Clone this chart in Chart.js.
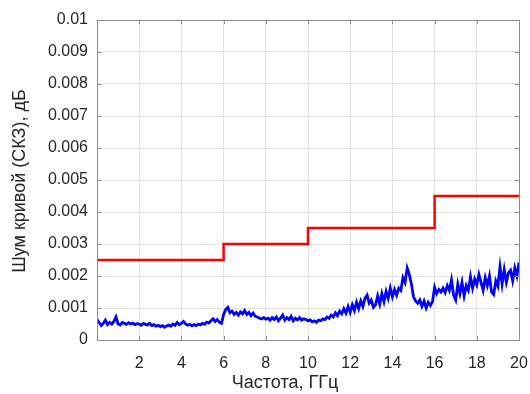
<!DOCTYPE html>
<html>
<head>
<meta charset="utf-8">
<script src="https://cdn.jsdelivr.net/npm/chart.js@4.4.0/dist/chart.umd.min.js"></script>
<style>
html,body{margin:0;padding:0;background:#fff;}
#c{display:block;}
</style>
</head>
<body>
<canvas id="c" width="530" height="394"></canvas>
<script>
// ---- data ----
const freqGHz = [
0.0,0.1,0.2,0.3,0.4,0.5,0.6,0.7,0.8,0.9,
1.0,1.1,1.2,1.3,1.4,1.5,1.6,1.7,1.8,1.9,
2.0,2.1,2.2,2.3,2.4,2.5,2.6,2.7,2.8,2.9,
3.0,3.1,3.2,3.3,3.4,3.5,3.6,3.7,3.8,3.9,
4.0,4.1,4.2,4.3,4.4,4.5,4.6,4.7,4.8,4.9,
5.0,5.1,5.2,5.3,5.4,5.5,5.6,5.7,5.8,5.9,
6.0,6.1,6.2,6.3,6.4,6.5,6.6,6.7,6.8,6.9,
7.0,7.1,7.2,7.3,7.4,7.5,7.6,7.7,7.8,7.9,
8.0,8.1,8.2,8.3,8.4,8.5,8.6,8.7,8.8,8.9,
9.0,9.1,9.2,9.3,9.4,9.5,9.6,9.7,9.8,9.9,
10.0,10.1,10.2,10.3,10.4,10.5,10.6,10.7,10.8,10.9,
11.0,11.1,11.2,11.3,11.4,11.5,11.6,11.7,11.8,11.9,
12.0,12.1,12.2,12.3,12.4,12.5,12.6,12.7,12.8,12.9,
13.0,13.1,13.2,13.3,13.4,13.5,13.6,13.7,13.8,13.9,
14.0,14.1,14.2,14.3,14.4,14.5,14.6,14.7,14.8,14.9,
15.0,15.1,15.2,15.3,15.4,15.5,15.6,15.7,15.8,15.9,
16.0,16.1,16.2,16.3,16.4,16.5,16.6,16.7,16.8,16.9,
17.0,17.1,17.2,17.3,17.4,17.5,17.6,17.7,17.8,17.9,
18.0,18.1,18.2,18.3,18.4,18.5,18.6,18.7,18.8,18.9,
19.0,19.1,19.2,19.3,19.4,19.5,19.6,19.7,19.8,19.9,
20.0
];
const noiseDb = [
0.00065,0.00055,0.00045,0.00052,0.00062,0.00048,0.00055,0.00050,0.00058,0.00072,
0.00050,0.00047,0.00055,0.00052,0.00049,0.00054,0.00050,0.00053,0.00048,0.00051,
0.00050,0.00046,0.00052,0.00049,0.00047,0.00052,0.00045,0.00048,0.00043,0.00046,
0.00042,0.00045,0.00040,0.00044,0.00047,0.00043,0.00050,0.00046,0.00055,0.00048,
0.00052,0.00058,0.00050,0.00046,0.00049,0.00044,0.00048,0.00045,0.00050,0.00047,
0.00052,0.00049,0.00056,0.00053,0.00060,0.00066,0.00058,0.00064,0.00055,0.00052,
0.00080,0.00095,0.00102,0.00085,0.00090,0.00080,0.00086,0.00078,0.00088,0.00082,
0.00092,0.00080,0.00086,0.00076,0.00084,0.00074,0.00072,0.00068,0.00066,0.00070,
0.00065,0.00068,0.00062,0.00070,0.00064,0.00072,0.00060,0.00068,0.00078,0.00062,
0.00070,0.00064,0.00074,0.00060,0.00068,0.00063,0.00070,0.00062,0.00066,0.00064,
0.00060,0.00063,0.00057,0.00060,0.00055,0.00062,0.00060,0.00066,0.00064,0.00072,
0.00068,0.00078,0.00072,0.00085,0.00076,0.00090,0.00082,0.00098,0.00084,0.00105,
0.00086,0.00110,0.00092,0.00118,0.00098,0.00122,0.00105,0.00130,0.00140,0.00115,
0.00125,0.00102,0.00110,0.00138,0.00112,0.00145,0.00120,0.00152,0.00130,0.00162,
0.00135,0.00158,0.00140,0.00162,0.00155,0.00195,0.00180,0.00225,0.00205,0.00175,
0.00135,0.00122,0.00115,0.00125,0.00105,0.00122,0.00100,0.00118,0.00108,0.00120,
0.00165,0.00145,0.00158,0.00150,0.00162,0.00148,0.00170,0.00155,0.00188,0.00140,
0.00125,0.00175,0.00145,0.00180,0.00138,0.00170,0.00155,0.00198,0.00162,0.00190,
0.00172,0.00205,0.00180,0.00155,0.00195,0.00170,0.00200,0.00150,0.00142,0.00185,
0.00168,0.00228,0.00175,0.00220,0.00180,0.00210,0.00218,0.00185,0.00225,0.00200,
0.00242
];
const limitFreq = [0, 6, 10, 16, 20];
const limitDb = [0.0025, 0.003, 0.0035, 0.0045, 0.0045];
const xTicks = [2, 4, 6, 8, 10, 12, 14, 16, 18, 20];
const yTickLabels = ['0','0.001','0.002','0.003','0.004','0.005','0.006','0.007','0.008','0.009','0.01'];
const xTitle = 'Частота, ГГц';
const yTitle = 'Шум кривой (СКЗ), дБ';

const FONT = '"Liberation Sans", Arial, sans-serif';
const AXIS = '#8c8c8c';

const noisePts = freqGHz.map((f, i) => ({x: f, y: noiseDb[i]}));
const limitPts = limitFreq.map((f, i) => ({x: f, y: limitDb[i]}));

const boxPlugin = {
  id: 'boxTicks',
  afterDraw(chart) {
    const {ctx, chartArea: a, scales: {x, y}} = chart;
    ctx.save();
    ctx.strokeStyle = AXIS;
    ctx.lineWidth = 1;
    ctx.beginPath();
    ctx.rect(Math.round(a.left) + 0.5, Math.round(a.top) + 0.5,
             Math.round(a.right - a.left), Math.round(a.bottom - a.top));
    ctx.stroke();
    ctx.beginPath();
    const tl = 4;
    xTicks.forEach(t => {
      const px = Math.round(x.getPixelForValue(t)) + 0.5;
      ctx.moveTo(px, a.bottom); ctx.lineTo(px, a.bottom - tl);
      ctx.moveTo(px, a.top); ctx.lineTo(px, a.top + tl);
    });
    yTickLabels.forEach((l, i) => {
      const py = Math.round(y.getPixelForValue(i * 0.001)) + 0.5;
      ctx.moveTo(a.left, py); ctx.lineTo(a.left + tl, py);
      ctx.moveTo(a.right, py); ctx.lineTo(a.right - tl, py);
    });
    ctx.stroke();
    // axis titles
    ctx.fillStyle = '#262626';
    ctx.font = '18px ' + FONT;
    ctx.textAlign = 'center';
    ctx.textBaseline = 'middle';
    ctx.fillText(xTitle, 285, 383);
    ctx.translate(20, 181);
    ctx.rotate(-Math.PI / 2);
    ctx.fillText(yTitle, 0, 0);
    ctx.restore();
  }
};

new Chart(document.getElementById('c'), {
  type: 'line',
  data: {
    datasets: [
      {
        data: limitPts,
        borderColor: '#ff0000',
        borderWidth: 2.5,
        stepped: 'before',
        pointRadius: 0,
        fill: false
      },
      {
        data: noisePts,
        borderColor: '#0000ff',
        borderWidth: 2.8,
        pointRadius: 0,
        tension: 0,
        fill: false
      }
    ]
  },
  options: {
    responsive: false,
    animation: false,
    events: [],
    layout: {padding: {top: 20, right: 0, left: 0, bottom: 0}},
    plugins: {legend: {display: false}, tooltip: {enabled: false}},
    scales: {
      x: {
        type: 'linear',
        min: 0, max: 20,
        afterFit(s) { s.height = 54; s.paddingRight = 11; },
        afterBuildTicks(s) { s.ticks = xTicks.map(v => ({value: v})); },
        grid: {color: '#e3e3e3', drawTicks: false, lineWidth: 1},
        border: {display: false},
        ticks: {
          padding: 14,
          color: '#262626',
          font: {family: FONT, size: 16},
          maxRotation: 0,
          autoSkip: false,
          callback: v => String(v)
        }
      },
      y: {
        type: 'linear',
        min: 0, max: 0.01,
        afterFit(s) { s.width = 97; },
        afterBuildTicks(s) { s.ticks = yTickLabels.map((l, i) => ({value: i * 0.001})); },
        grid: {color: '#e3e3e3', drawTicks: false, lineWidth: 1},
        border: {display: false},
        ticks: {
          padding: 9,
          color: '#262626',
          font: {family: FONT, size: 16},
          autoSkip: false,
          callback: (v, i) => yTickLabels[i]
        }
      }
    }
  },
  plugins: [boxPlugin]
});
</script>
</body>
</html>
